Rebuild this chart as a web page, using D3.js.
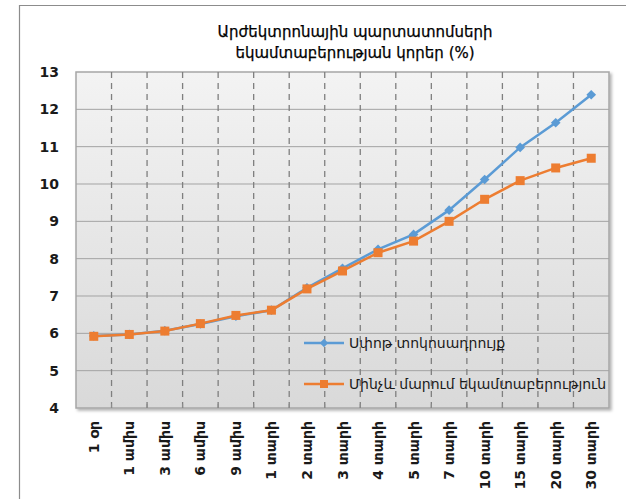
<!DOCTYPE html>
<html>
<head>
<meta charset="utf-8">
<script src="https://cdn.jsdelivr.net/npm/d3@7"></script>
<style>
  body { margin: 0; background: #fff; }
  svg { display: block; font-family: "DejaVu Sans", "Noto Sans", sans-serif; }
</style>
</head>
<body>
<svg width="627" height="499"></svg>
<script>
// categories (maturities) and the two curves
var categories = ["1 օր", "1 ամիս", "3 ամիս", "6 ամիս", "9 ամիս", "1 տարի", "2 տարի", "3 տարի",
                  "4 տարի", "5 տարի", "7 տարի", "10 տարի", "15 տարի", "20 տարի", "30 տարի"];
var spotRate = [5.93, 5.97, 6.07, 6.25, 6.46, 6.62, 7.22, 7.74, 8.25, 8.65, 9.3, 10.12, 10.98, 11.64, 12.39];
var ytmRate  = [5.92, 5.97, 6.06, 6.26, 6.48, 6.62, 7.19, 7.67, 8.16, 8.47, 9.0, 9.59, 10.09, 10.43, 10.69];
var yTicks = [4, 5, 6, 7, 8, 9, 10, 11, 12, 13];
var seriesNames = ["Սփոթ տոկոսադրույք", "Մինչև մարում եկամտաբերություն"];
var titleLines = ["Արժեկտրոնային պարտատոմսերի", "եկամտաբերության կորեր (%)"];

var svg = d3.select("svg"),
    plotLeft = 76, plotTop = 72, plotRight = 609, plotBottom = 408; // plot area box

// outer frame (only left and top edges visible)
svg.append("path")
   .attr("d", "M19.5,499 V5.5 H626")
   .attr("fill", "none")
   .attr("stroke", "#8c8c8c")
   .attr("stroke-width", 1.2);

// title
svg.append("g").selectAll("text")
   .data(titleLines)
   .enter().append("text")
   .attr("x", 355)
   .attr("y", function(d, i) { return 37 + i * 21; })
   .attr("text-anchor", "middle")
   .attr("font-size", "15px")
   .attr("fill", "#000")
   .attr("stroke", "#000").attr("stroke-width", 0.25)
   .text(function(d) { return d; });

var xScale = d3.scaleBand().domain(categories).range([plotLeft, plotRight]),
    yScale = d3.scaleLinear().domain([4, 13]).range([plotBottom, plotTop]);

// plot background with a gradient and a little shadow
var defs = svg.append("defs");
var grad = defs.append("linearGradient").attr("id", "bg").attr("x1", 0).attr("y1", 0).attr("x2", 0).attr("y2", 1);
grad.append("stop").attr("offset", "0%").attr("stop-color", "#f3f3f3");
grad.append("stop").attr("offset", "100%").attr("stop-color", "#d9d9d9");
var shadow = defs.append("filter").attr("id", "shadow").attr("x", "-5%").attr("y", "-5%").attr("width", "115%").attr("height", "115%");
shadow.append("feDropShadow").attr("dx", 2).attr("dy", 2).attr("stdDeviation", 1.5).attr("flood-color", "#000").attr("flood-opacity", 0.3);

svg.append("rect")
   .attr("x", plotLeft).attr("y", plotTop)
   .attr("width", plotRight - plotLeft).attr("height", plotBottom - plotTop)
   .attr("fill", "url(#bg)")
   .attr("stroke", "#a6a6a6")
   .attr("stroke-width", 1.5)
   .attr("filter", "url(#shadow)");

// horizontal gridlines
svg.append("g").selectAll("line")
   .data(yTicks.slice(1, -1))
   .enter().append("line")
   .attr("x1", plotLeft).attr("x2", plotRight)
   .attr("y1", function(d) { return yScale(d); })
   .attr("y2", function(d) { return yScale(d); })
   .attr("stroke", "#a3a3a3")
   .attr("stroke-width", 1);

// vertical dashed lines at category boundaries
svg.append("g").selectAll("line")
   .data(categories.slice(1))
   .enter().append("line")
   .attr("x1", function(d) { return xScale(d); })
   .attr("x2", function(d) { return xScale(d); })
   .attr("y1", plotTop).attr("y2", plotBottom)
   .attr("stroke", "#7f7f7f")
   .attr("stroke-width", 1.3)
   .attr("stroke-dasharray", "6,5");

// small tick marks on the bottom edge
svg.append("g").selectAll("line")
   .data(categories.slice(1))
   .enter().append("line")
   .attr("x1", function(d) { return xScale(d); })
   .attr("x2", function(d) { return xScale(d); })
   .attr("y1", plotBottom - 4).attr("y2", plotBottom)
   .attr("stroke", "#8c8c8c");

// y axis labels
svg.append("g").selectAll("text")
   .data(yTicks)
   .enter().append("text")
   .attr("x", 59)
   .attr("y", function(d) { return yScale(d) + 5; })
   .attr("text-anchor", "end")
   .attr("font-size", "14px")
   .attr("font-weight", "bold")
   .attr("fill", "#1a1a1a")
   .text(function(d) { return d; });

// x axis labels, rotated
svg.append("g").selectAll("text")
   .data(categories)
   .enter().append("text")
   .attr("transform", function(d) {
       return "translate(" + (xScale(d) + xScale.bandwidth() / 2 + 5) + "," + 421 + ") rotate(-90)";
   })
   .attr("text-anchor", "end")
   .attr("font-size", "14px")
   .attr("font-weight", "bold")
   .attr("fill", "#1a1a1a")
   .text(function(d) { return d; });

var cx = function(d, i) { return xScale(categories[i]) + xScale.bandwidth() / 2; };
var line = d3.line().x(cx).y(function(d) { return yScale(d); });

// spot rate (blue, diamonds)
svg.append("path")
   .datum(spotRate)
   .attr("d", line)
   .attr("fill", "none")
   .attr("stroke", "#5b9bd5")
   .attr("stroke-width", 2.5);
svg.append("g").selectAll("path")
   .data(spotRate)
   .enter().append("path")
   .attr("d", d3.symbol().type(d3.symbolDiamond2).size(60))
   .attr("transform", function(d, i) { return "translate(" + cx(d, i) + "," + yScale(d) + ")"; })
   .attr("fill", "#5b9bd5");

// yield to maturity (orange, squares)
svg.append("path")
   .datum(ytmRate)
   .attr("d", line)
   .attr("fill", "none")
   .attr("stroke", "#ed7d31")
   .attr("stroke-width", 2.5);
svg.append("g").selectAll("rect")
   .data(ytmRate)
   .enter().append("rect")
   .attr("x", function(d, i) { return cx(d, i) - 4.5; })
   .attr("y", function(d) { return yScale(d) - 4.5; })
   .attr("width", 9).attr("height", 9)
   .attr("fill", "#ed7d31");

// legend
var legend = svg.append("g").attr("transform", "translate(304,0)");
var legendRows = [
    { name: seriesNames[0], color: "#5b9bd5", y: 343, marker: "diamond" },
    { name: seriesNames[1], color: "#ed7d31", y: 384, marker: "square" }
];
legendRows.forEach(function(r) {
    legend.append("line")
          .attr("x1", 0).attr("x2", 40)
          .attr("y1", r.y).attr("y2", r.y)
          .attr("stroke", r.color).attr("stroke-width", 2.5);
    if (r.marker === "diamond") {
        legend.append("path")
              .attr("d", d3.symbol().type(d3.symbolDiamond2).size(45))
              .attr("transform", "translate(20," + r.y + ")")
              .attr("fill", r.color);
    } else {
        legend.append("rect")
              .attr("x", 16).attr("y", r.y - 4).attr("width", 8).attr("height", 8)
              .attr("fill", r.color);
    }
    legend.append("text")
          .attr("x", 45).attr("y", r.y + 5)
          .attr("font-size", "14px")
          .attr("fill", "#1a1a1a")
          .text(r.name);
});
</script>
</body>
</html>
